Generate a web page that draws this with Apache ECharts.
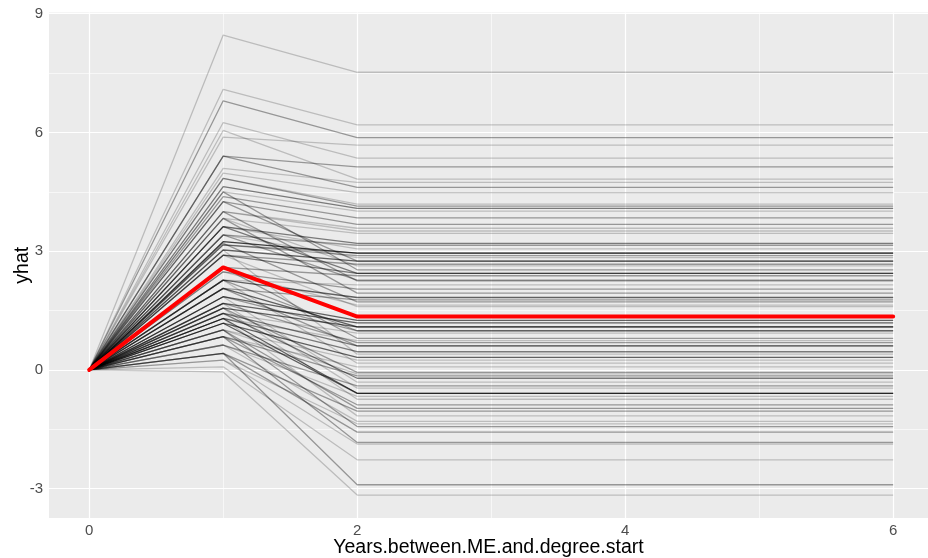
<!DOCTYPE html>
<html>
<head>
<meta charset="utf-8">
<script src="https://cdn.jsdelivr.net/npm/echarts@6/dist/echarts.min.js"></script>
<style>html,body{margin:0;padding:0;background:#fff}#c{width:928px;height:558px}</style>
</head>
<body>
<div id="c"></div>
<script>
// x positions of each individual trajectory
const xPoints = [0, 1, 2, 6];
// per-group predicted value at x=1 (peak) and at x>=2 (plateau), with number of overlapping individuals
const peakVals = [8.46,7.09,6.80,6.25,5.88,6.05,5.40,5.40,5.09,4.97,4.84,4.84,4.63,4.50,4.38,4.25,4.00,4.00,3.83,3.62,3.41,3.24,3.16,3.62,3.16,3.41,3.03,4.25,2.90,3.83,4.50,2.90,3.62,2.59,3.41,4.00,2.27,2.48,3.83,2.27,2.06,3.20,2.48,2.90,1.85,1.68,2.06,1.56,1.85,2.27,1.43,2.59,1.30,1.68,1.43,2.06,1.30,3.03,1.18,1.01,2.27,0.84,1.56,1.01,0.84,1.43,1.85,0.63,1.68,1.18,1.30,0.63,1.56,0.84,1.01,0.42,1.30,0.63,0.25,1.01,0.42,0.84,0.25,0.08,0.42,-0.05];
const endVals  = [7.52,6.19,5.87,5.35,5.68,4.82,5.13,4.61,4.74,4.48,4.19,4.14,4.08,4.01,3.84,3.68,3.58,3.51,3.45,3.20,3.15,2.95,2.95,3.06,2.89,2.84,2.75,2.75,2.67,2.63,2.53,2.44,2.44,2.38,2.27,2.25,2.15,2.04,1.94,1.83,1.77,1.72,1.64,1.60,1.25,1.19,1.09,1.09,0.99,0.99,0.93,0.80,0.74,0.69,0.61,0.61,0.46,0.40,0.32,0.25,0.17,0.08,-0.06,-0.10,-0.15,-0.21,-0.31,-0.40,-0.46,-0.59,-0.59,-0.67,-0.74,-0.88,-0.97,-1.04,-1.16,-1.30,-1.36,-1.43,-1.57,-1.83,-1.87,-2.27,-2.90,-3.16];
const lineCounts = [1,1,2,1,1,1,2,2,1,1,1,2,3,1,2,2,1,1,1,3,2,6,2,1,2,1,4,2,2,1,2,3,3,2,2,2,1,2,2,4,2,2,1,1,4,4,4,4,2,2,1,2,1,2,3,2,3,1,4,1,1,1,2,1,2,3,1,2,1,4,4,1,1,2,2,2,1,1,1,2,2,2,1,1,2,1];
// mean trajectory
const meanVals = [0, 2.59, 1.35, 1.35];
const xTicks = [0, 2, 4, 6];
const xMinor = [1, 3, 5];
const yTicks = [-3, 0, 3, 6, 9];
const yMinor = [-1.5, 1.5, 4.5, 7.5];

const chart = echarts.init(document.getElementById('c'), null, {renderer: 'canvas'});
const baseAlpha = 0.2;
const series = [];
const gridLines = [];
xTicks.forEach(v => gridLines.push({xAxis: v, lineStyle: {color: '#ffffff', width: 1.2, type: 'solid'}}));
xMinor.forEach(v => gridLines.push({xAxis: v, lineStyle: {color: '#ffffff', width: 0.6, type: 'solid'}}));
yTicks.forEach(v => gridLines.push({yAxis: v, lineStyle: {color: '#ffffff', width: 1.2, type: 'solid'}}));
yMinor.forEach(v => gridLines.push({yAxis: v, lineStyle: {color: '#ffffff', width: 0.6, type: 'solid'}}));
series.push({
  type: 'line', data: [[0, 0]], symbol: 'none', lineStyle: {opacity: 0}, z: 1, silent: true,
  markLine: {silent: true, symbol: ['none', 'none'], label: {show: false}, z: 1, animation: false, data: gridLines}
});
for (let i = 0; i < peakVals.length; i++) {
  const op = 1 - Math.pow(1 - baseAlpha, lineCounts[i]);
  const ys = [0, peakVals[i], endVals[i], endVals[i]];
  series.push({
    type: 'line', z: 3, symbol: 'none', silent: true, animation: false,
    data: xPoints.map((x, j) => [x, ys[j]]),
    lineStyle: {color: '#000000', width: 1.3, opacity: op}
  });
}
series.push({
  type: 'line', z: 4, symbol: 'none', silent: true, animation: false,
  data: xPoints.map((x, j) => [x, meanVals[j]]),
  lineStyle: {color: '#FF0000', width: 4, cap: 'round', join: 'round'}
});

chart.setOption({
  animation: false,
  textStyle: {fontFamily: 'Liberation Sans, Arial, sans-serif'},
  grid: {left: 49, right: 0, top: 12.5, bottom: 40, containLabel: false, outerBoundsMode: 'none',
         show: true, backgroundColor: '#EBEBEB', borderWidth: 0},
  xAxis: {
    type: 'value', min: -0.3, max: 6.26,
    name: 'Years.between.ME.and.degree.start', nameLocation: 'middle', nameGap: 20, nameMoveOverlap: false,
    nameTextStyle: {color: '#000000', fontSize: 19.5},
    axisLine: {show: false},
    axisTick: {show: true, inside: false, length: 4, customValues: xTicks, lineStyle: {color: '#333333', width: 1}},
    axisLabel: {customValues: xTicks, color: '#4D4D4D', fontSize: 15, margin: 5},
    splitLine: {show: false}
  },
  yAxis: {
    type: 'value', min: -3.74, max: 9.03,
    name: 'yhat', nameLocation: 'middle', nameGap: 16, nameMoveOverlap: false,
    nameTextStyle: {color: '#000000', fontSize: 19.5},
    axisLine: {show: false},
    axisTick: {show: true, inside: false, length: 4, customValues: yTicks, lineStyle: {color: '#333333', width: 1}},
    axisLabel: {customValues: yTicks, color: '#4D4D4D', fontSize: 15, margin: 6},
    splitLine: {show: false}
  },
  series: series
});
</script>
</body>
</html>
